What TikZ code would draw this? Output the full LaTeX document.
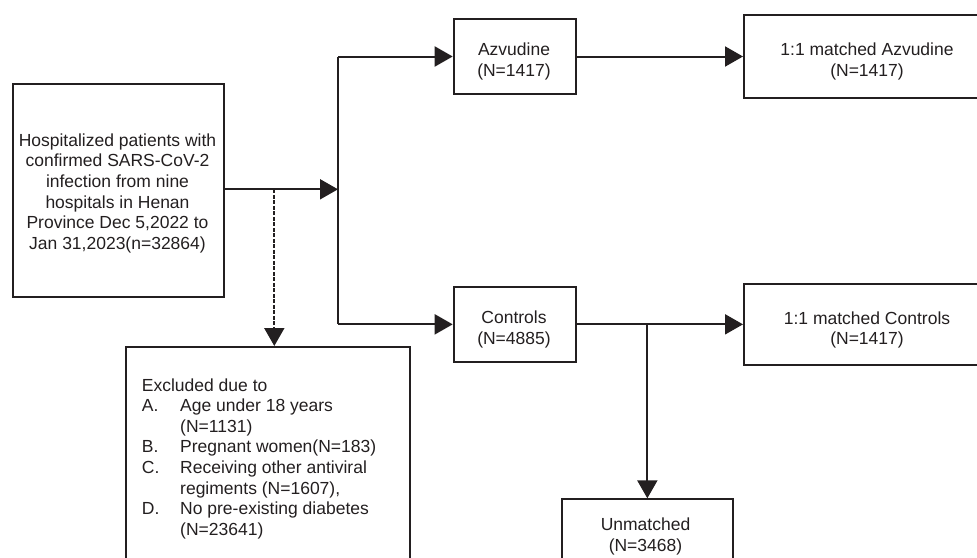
\documentclass[tikz,border=0pt]{standalone}
\usepackage{fontspec}
\setmainfont{Liberation Sans}
\usetikzlibrary{arrows.meta}
\definecolor{ink}{HTML}{231F20}
\begin{document}
\begin{tikzpicture}[x=1pt,y=-1pt,
  box/.style={draw=ink, line width=2pt, inner sep=0pt, anchor=north west},
  txt/.style={font=\fontsize{17.5}{20.6}\selectfont, text=ink, align=center, inner sep=0pt},
  ln/.style={draw=ink, line width=2pt},
  arr/.style={ln, -{Triangle[length=18pt,width=20pt]}},
  dasharr/.style={arr, dash pattern=on 4pt off 1.5pt}]
\useasboundingbox (0,0) rectangle (977,557);
\clip (0,0) rectangle (977,557);
% boxes
\node[box, minimum width=211.6pt, minimum height=212.7pt] (main) at (11.7,83.3) {};
\node[box, minimum width=122.3pt, minimum height=74.4pt] (az) at (452.7,18.3) {};
\node[box, minimum width=122.3pt, minimum height=74.7pt] (ct) at (452.7,286) {};
\node[box, minimum width=248pt, minimum height=82.4pt] (maz) at (743,14.3) {};
\node[box, minimum width=248pt, minimum height=81.6pt] (mct) at (743,282.7) {};
\node[box, minimum width=170.7pt, minimum height=80pt] (um) at (561,498.3) {};
\node[box, minimum width=284pt, minimum height=240pt] (ex) at (125,346) {};
% texts
\node[txt] (tmain) at (117.5,193.3) {Hospitalized patients with\\confirmed SARS-CoV-2\\infection from nine\\hospitals in Henan\\Province Dec 5,2022 to\\Jan 31,2023(n=32864)};
\node[txt] (taz) at (514,61.5) {Azvudine\\(N=1417)};
\node[txt] (tct) at (514,329.5) {Controls\\(N=4885)};
\node[txt] (tmaz) at (867,61.7) {1:1 matched Azvudine\\(N=1417)};
\node[txt] (tmct) at (867,330) {1:1 matched Controls\\(N=1417)};
\node[txt] (tum) at (645.5,536.5) {Unmatched\\(N=3468)};
\node[txt, align=left, anchor=base west] (tex) at (141.7,391) {\begin{tabular}[t]{@{}p{38.3pt}@{}l@{}}
\multicolumn{2}{@{}l@{}}{Excluded due to}\\
A. & Age under 18 years\\
   & (N=1131)\\
B. & Pregnant women(N=183)\\
C. & Receiving other antiviral\\
   & regiments (N=1607),\\
D. & No pre-existing diabetes\\
   & (N=23641)
\end{tabular}};
% connectors
\coordinate (j1) at (338,189.3);
\coordinate (d1) at (274.3,189.3);
\draw[arr] (main.east |- j1) -- (j1);
\draw[ln] (az.west -| j1) -- (ct.west -| j1);
\draw[arr] (az.west -| j1) -- (az.west);
\draw[arr] (ct.west -| j1) -- (ct.west);
\draw[arr] (az.east) -- (maz.west |- az.east);
\draw[arr] (ct.east) -- (mct.west |- ct.east);
\draw[arr] (ct.east -| um.north) -- (um.north);
\draw[dasharr] (d1) -- (d1 |- ex.north);
\end{tikzpicture}
\end{document}
